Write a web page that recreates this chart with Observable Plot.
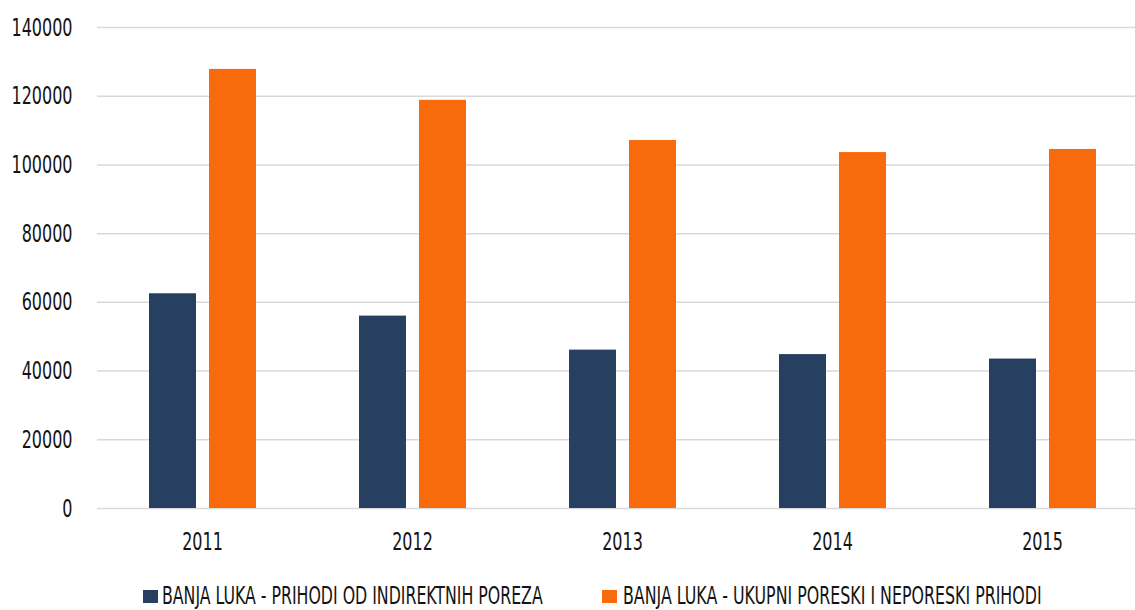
<!DOCTYPE html>
<html>
<head>
<meta charset="utf-8">
<script src="https://cdn.jsdelivr.net/npm/d3@7"></script>
<script src="https://cdn.jsdelivr.net/npm/@observablehq/plot@0.6"></script>
<style>
  html, body { margin: 0; padding: 0; background: #ffffff; }
  #chart svg, #legend svg { display: block; }
</style>
</head>
<body>
<div id="chart"></div>
<div id="legend"></div>
<script>
// ---- data ----
const years = ["2011", "2012", "2013", "2014", "2015"];
const seriesNames = [
  "BANJA LUKA - PRIHODI OD INDIREKTNIH POREZA",
  "BANJA LUKA - UKUPNI PORESKI I NEPORESKI PRIHODI"
];
const indirektniPorezi = [62500, 56000, 46100, 44800, 43500];
const ukupniPrihodi = [127800, 118800, 107100, 103600, 104500];
const yTicks = [0, 20000, 40000, 60000, 80000, 100000, 120000, 140000];
const seriesColors = ["#274062", "#f86b0c"];

const FONT = "'Liberation Sans Narrow', 'Arial Narrow', 'DejaVu Sans Condensed', 'Liberation Sans', sans-serif";

const data = years.flatMap((yr, i) => [
  { year: yr, series: seriesNames[0], value: indirektniPorezi[i] },
  { year: yr, series: seriesNames[1], value: ukupniPrihodi[i] }
]);

const chart = Plot.plot({
  width: 1135,
  height: 575,
  marginLeft: 97,
  marginRight: 0,
  marginTop: 27,
  marginBottom: 67,
  style: { fontFamily: FONT, fontSize: "25px", color: "#141414", background: "#ffffff", overflow: "hidden" },
  fx: { domain: years, range: [97, 1147], paddingInner: 0, paddingOuter: 0, label: null, tickSize: 0, tickPadding: 24 },
  x: { domain: seriesNames, paddingInner: 0.222, paddingOuter: 0.861, axis: null },
  y: { domain: [0, 140000], ticks: yTicks, tickSize: 0, tickPadding: 25, tickFormat: d3.format("d"), label: null },
  color: { domain: seriesNames, range: seriesColors },
  marks: [
    Plot.ruleY(yTicks, { stroke: "#d9d9d9", strokeWidth: 1.5 }),
    Plot.barY(data, { fx: "year", x: "series", y: "value", fill: "series" })
  ]
});
document.getElementById("chart").appendChild(chart);

// condense the tick labels to match the narrow typeface of the reference
const tickTexts = Array.from(chart.querySelectorAll("g[aria-label$='tick label'] text"));
const refText = tickTexts.find(t => t.textContent === "140000");
if (refText) {
  const k = 61 / refText.getComputedTextLength();
  tickTexts.forEach(t => {
    const w = t.getComputedTextLength();
    t.setAttribute("textLength", (w * k).toFixed(2));
    t.setAttribute("lengthAdjust", "spacingAndGlyphs");
  });
}

// ---- legend below the chart ----
const legendItems = [
  { name: seriesNames[0], color: seriesColors[0], sx: 143, tx: 162, tw: 381 },
  { name: seriesNames[1], color: seriesColors[1], sx: 602, tx: 623, tw: 419 }
];
const legend = d3.create("svg").attr("width", 1135).attr("height", 35)
  .style("font-family", FONT).style("font-size", "25px");
document.getElementById("legend").appendChild(legend.node());
legendItems.forEach(it => {
  legend.append("rect").attr("x", it.sx).attr("y", 15).attr("width", 15).attr("height", 13).attr("fill", it.color);
  const t = legend.append("text").attr("fill", "#141414").text(it.name);
  const w = t.node().getComputedTextLength();
  t.attr("transform", `translate(${it.tx},29) scale(${(it.tw / w).toFixed(4)},1)`);
});
</script>
</body>
</html>
